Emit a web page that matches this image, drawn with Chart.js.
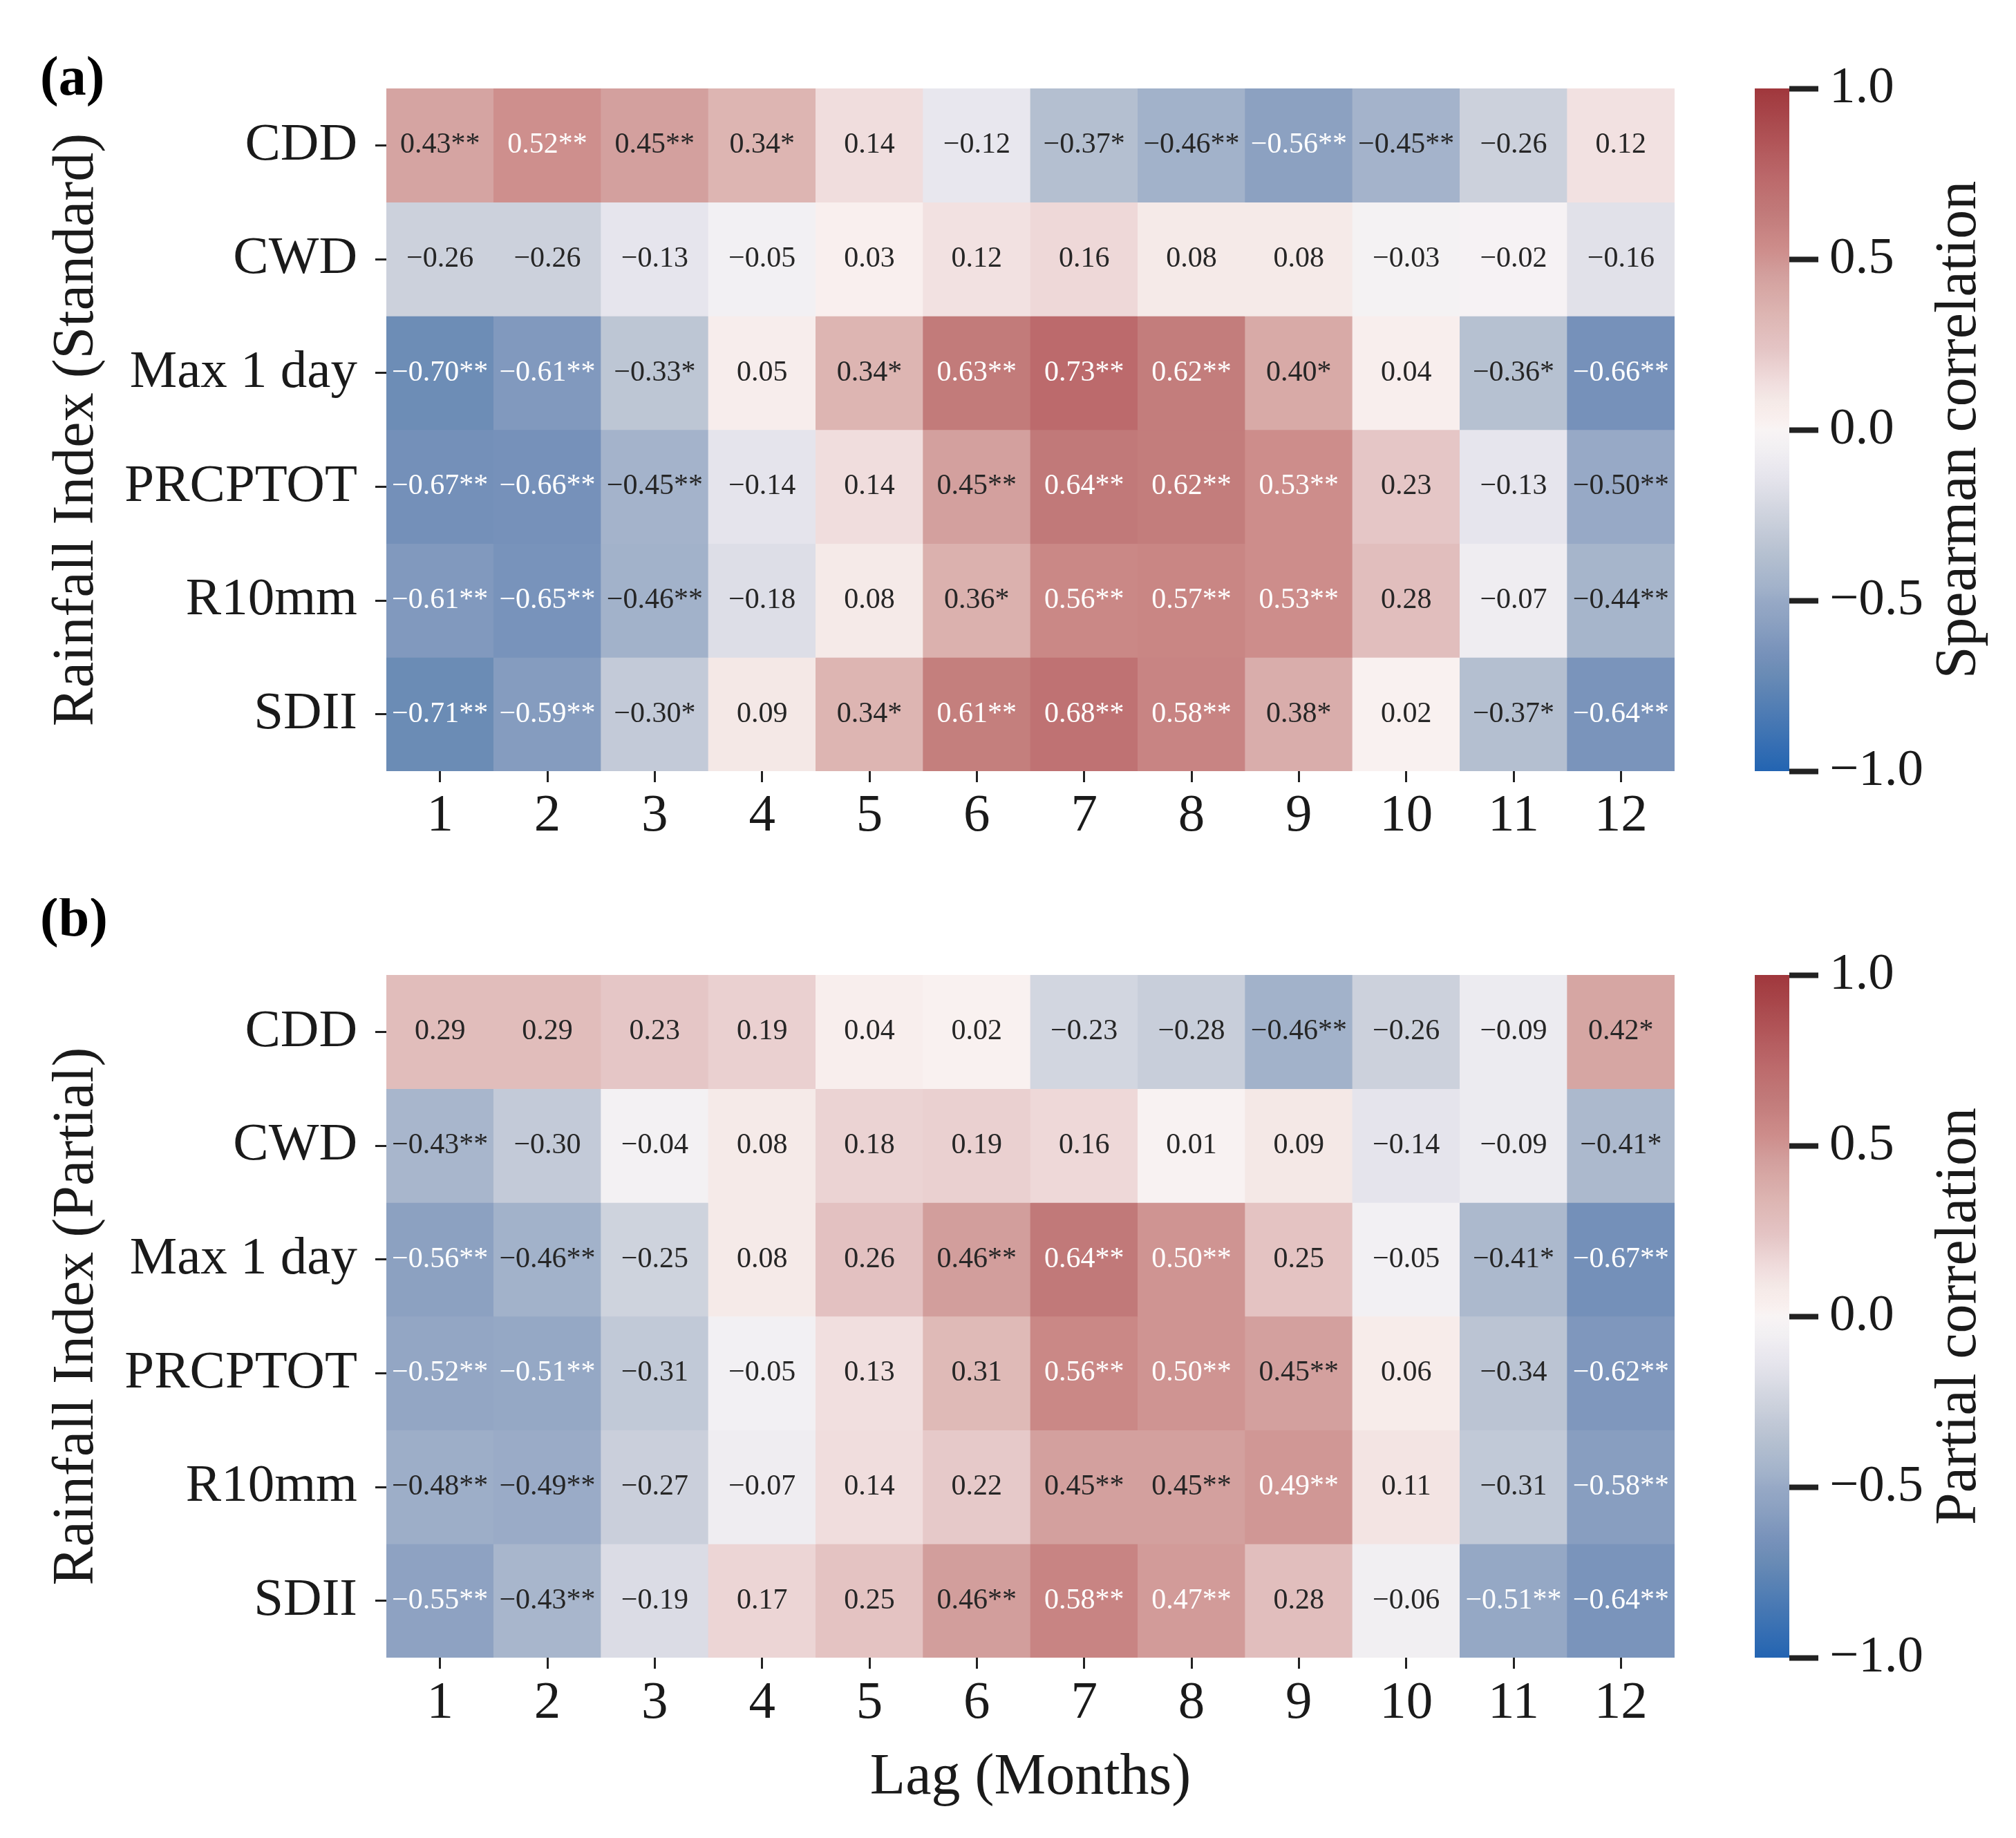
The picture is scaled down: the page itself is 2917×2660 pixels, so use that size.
<!DOCTYPE html>
<html>
<head>
<meta charset="utf-8">
<script src="https://cdn.jsdelivr.net/npm/chart.js@4.4.1/dist/chart.umd.min.js"></script>
<style>
  html, body { margin: 0; padding: 0; background: #fff; }
  #page { position: relative; width: 2917px; height: 2660px; overflow: hidden; }
  canvas { position: absolute; }
</style>
</head>
<body>
<div id="page">
  <canvas id="heatA" width="2450" height="1300" style="left:0;top:0"></canvas>
  <canvas id="barA" width="417" height="1300" style="left:2500px;top:0"></canvas>
  <canvas id="heatB" width="2450" height="1360" style="left:0;top:1300px"></canvas>
  <canvas id="barB" width="417" height="1360" style="left:2500px;top:1300px"></canvas>
</div>
<script>
// categories
const lags = ['1', '2', '3', '4', '5', '6', '7', '8', '9', '10', '11', '12'];
const indices = ['CDD', 'CWD', 'Max 1 day', 'PRCPTOT', 'R10mm', 'SDII'];
const cbTicks = [-1, -0.5, 0, 0.5, 1];

// (a) standard Spearman correlation
const stdCDD = [0.43, 0.52, 0.45, 0.34, 0.14, -0.12, -0.37, -0.46, -0.56, -0.45, -0.26, 0.12];
const stdCWD = [-0.26, -0.26, -0.13, -0.05, 0.03, 0.12, 0.16, 0.08, 0.08, -0.03, -0.02, -0.16];
const stdMax1 = [-0.70, -0.61, -0.33, 0.05, 0.34, 0.63, 0.73, 0.62, 0.40, 0.04, -0.36, -0.66];
const stdPRCPTOT = [-0.67, -0.66, -0.45, -0.14, 0.14, 0.45, 0.64, 0.62, 0.53, 0.23, -0.13, -0.50];
const stdR10mm = [-0.61, -0.65, -0.46, -0.18, 0.08, 0.36, 0.56, 0.57, 0.53, 0.28, -0.07, -0.44];
const stdSDII = [-0.71, -0.59, -0.30, 0.09, 0.34, 0.61, 0.68, 0.58, 0.38, 0.02, -0.37, -0.64];
// number of significance stars
const stdCDDSig = [2, 2, 2, 1, 0, 0, 1, 2, 2, 2, 0, 0];
const stdCWDSig = [0, 0, 0, 0, 0, 0, 0, 0, 0, 0, 0, 0];
const stdMax1Sig = [2, 2, 1, 0, 1, 2, 2, 2, 1, 0, 1, 2];
const stdPRCPTOTSig = [2, 2, 2, 0, 0, 2, 2, 2, 2, 0, 0, 2];
const stdR10mmSig = [2, 2, 2, 0, 0, 1, 2, 2, 2, 0, 0, 2];
const stdSDIISig = [2, 2, 1, 0, 1, 2, 2, 2, 1, 0, 1, 2];

// (b) partial correlation
const parCDD = [0.29, 0.29, 0.23, 0.19, 0.04, 0.02, -0.23, -0.28, -0.46, -0.26, -0.09, 0.42];
const parCWD = [-0.43, -0.30, -0.04, 0.08, 0.18, 0.19, 0.16, 0.01, 0.09, -0.14, -0.09, -0.41];
const parMax1 = [-0.56, -0.46, -0.25, 0.08, 0.26, 0.46, 0.64, 0.50, 0.25, -0.05, -0.41, -0.67];
const parPRCPTOT = [-0.52, -0.51, -0.31, -0.05, 0.13, 0.31, 0.56, 0.50, 0.45, 0.06, -0.34, -0.62];
const parR10mm = [-0.48, -0.49, -0.27, -0.07, 0.14, 0.22, 0.45, 0.45, 0.49, 0.11, -0.31, -0.58];
const parSDII = [-0.55, -0.43, -0.19, 0.17, 0.25, 0.46, 0.58, 0.47, 0.28, -0.06, -0.51, -0.64];
const parCDDSig = [0, 0, 0, 0, 0, 0, 0, 0, 2, 0, 0, 1];
const parCWDSig = [2, 0, 0, 0, 0, 0, 0, 0, 0, 0, 0, 1];
const parMax1Sig = [2, 2, 0, 0, 0, 2, 2, 2, 0, 0, 1, 2];
const parPRCPTOTSig = [2, 2, 0, 0, 0, 0, 2, 2, 2, 0, 0, 2];
const parR10mmSig = [2, 2, 0, 0, 0, 0, 2, 2, 2, 0, 0, 2];
const parSDIISig = [2, 2, 0, 0, 0, 2, 2, 2, 0, 0, 2, 2];

const FONT = '"Liberation Serif", "Times New Roman", serif';
const INK = '#1a1a1a';
Chart.defaults.font.family = FONT;
Chart.defaults.color = INK;

// blue - white - red map, picked off the figure
const cmap = [
  [-1.00, [35, 100, 178]], [-0.71, [107, 140, 181]], [-0.66, [118, 145, 186]],
  [-0.56, [140, 161, 193]], [-0.50, [151, 169, 198]], [-0.46, [162, 178, 202]],
  [-0.37, [180, 191, 208]], [-0.26, [204, 209, 220]], [-0.14, [229, 228, 236]],
  [-0.05, [242, 240, 243]], [0.00, [248, 244, 244]], [0.03, [249, 239, 238]],
  [0.08, [245, 234, 232]], [0.14, [240, 221, 221]], [0.23, [229, 198, 198]],
  [0.34, [221, 181, 178]], [0.45, [211, 160, 158]], [0.53, [205, 141, 139]],
  [0.63, [194, 123, 122]], [0.73, [188, 106, 108]], [1.00, [160, 55, 60]]
];

function colorFor(v) {
  for (let i = 1; i < cmap.length; i++) {
    if (v <= cmap[i][0]) {
      const [v0, c0] = cmap[i - 1], [v1, c1] = cmap[i];
      const t = (v - v0) / (v1 - v0);
      const c = c0.map((a, k) => Math.round(a + (c1[k] - a) * t));
      return `rgb(${c[0]},${c[1]},${c[2]})`;
    }
  }
  const c = cmap[cmap.length - 1][1];
  return `rgb(${c[0]},${c[1]},${c[2]})`;
}

function fmt(v, digits) {
  return (v < 0 ? '\u2212' : '') + Math.abs(v).toFixed(digits);
}

// writes value + stars in the middle of each cell
const cellText = {
  id: 'cellText',
  afterDatasetsDraw(chart) {
    const ctx = chart.ctx;
    ctx.save();
    ctx.font = '42px ' + FONT;
    ctx.textAlign = 'center';
    ctx.textBaseline = 'middle';
    chart.data.datasets.forEach((ds, i) => {
      chart.getDatasetMeta(i).data.forEach((bar, j) => {
        const v = ds.values[j];
        ctx.fillStyle = (v >= 0.47 || v <= -0.51) ? '#ffffff' : '#262626';
        ctx.fillText(fmt(v, 2) + '*'.repeat(ds.sig[j]), bar.x, (bar.y + bar.base) / 2);
      });
    });
    ctx.restore();
  }
};

const panelTag = {
  id: 'panelTag',
  afterDraw(chart, args, opts) {
    const ctx = chart.ctx;
    ctx.save();
    ctx.font = 'bold 80px ' + FONT;
    ctx.fillStyle = '#000';
    ctx.textAlign = 'left';
    ctx.textBaseline = 'middle';
    ctx.fillText(opts.text, opts.x, opts.y);
    ctx.restore();
  }
};

function heatmap(id, rows, sigs, cfg) {
  const datasets = rows.map((vals, r) => ({
    label: indices[r],
    data: vals.map(() => [r - 0.5, r + 0.5]),
    values: vals,
    sig: sigs[r],
    backgroundColor: vals.map(colorFor),
    borderWidth: 0,
    barPercentage: 1,
    categoryPercentage: 1
  }));
  const el = document.getElementById(id);
  return new Chart(el, {
    type: 'bar',
    data: { labels: lags, datasets: datasets },
    plugins: [cellText, panelTag],
    options: {
      responsive: false,
      animation: false,
      devicePixelRatio: 1,
      layout: { padding: { left: 0, right: 27, top: cfg.top, bottom: 0 } },
      plugins: {
        legend: { display: false },
        tooltip: { enabled: false },
        panelTag: { text: cfg.tag, x: 58, y: cfg.tagY }
      },
      scales: {
        x: {
          type: 'category',
          stacked: true,
          afterFit: s => { s.height = el.height - cfg.bottom; },
          grid: { offset: false, drawOnChartArea: false, tickLength: 16, tickWidth: 3, tickColor: '#222' },
          border: { display: false },
          ticks: { font: { size: 77 }, color: INK, padding: cfg.xPad, maxRotation: 0 },
          title: {
            display: !!cfg.xTitle,
            text: cfg.xTitle || '',
            font: { size: 84 },
            color: INK,
            padding: { top: 0, bottom: 36 }
          }
        },
        y: {
          type: 'linear',
          min: -0.5,
          max: 5.5,
          reverse: true,
          afterBuildTicks: s => { s.ticks = indices.map((_, i) => ({ value: i })); },
          afterFit: s => { s.width = 559; },
          grid: { drawOnChartArea: false, tickLength: 16, tickWidth: 3, tickColor: '#222' },
          border: { display: false },
          ticks: { font: { size: 77 }, color: INK, padding: 26, callback: v => indices[v] },
          title: {
            display: true,
            text: cfg.yTitle,
            font: { size: 84 },
            color: INK,
            padding: { top: 62, bottom: 0 }
          }
        }
      }
    }
  });
}

function gradient(chart) {
  const area = chart.chartArea;
  if (!area) return colorFor(0);
  const g = chart.ctx.createLinearGradient(0, area.bottom, 0, area.top);
  for (let k = 0; k <= 100; k++) {
    const v = -1 + k / 50;
    g.addColorStop(k / 100, colorFor(v));
  }
  return g;
}

const cbLabel = {
  id: 'cbLabel',
  afterDraw(chart, args, opts) {
    const ctx = chart.ctx;
    const area = chart.chartArea;
    ctx.save();
    ctx.translate(opts.x, (area.top + area.bottom) / 2);
    ctx.rotate(-Math.PI / 2);
    ctx.font = '84px ' + FONT;
    ctx.fillStyle = INK;
    ctx.textAlign = 'center';
    ctx.textBaseline = 'middle';
    ctx.fillText(opts.text, 0, 0);
    ctx.restore();
  }
};

function colorbar(id, label, top) {
  const el = document.getElementById(id);
  return new Chart(el, {
    type: 'bar',
    data: {
      labels: [''],
      datasets: [{
        data: [[-1, 1]],
        backgroundColor: ctx => gradient(ctx.chart),
        borderWidth: 0,
        barPercentage: 1,
        categoryPercentage: 1
      }]
    },
    plugins: [cbLabel],
    options: {
      responsive: false,
      animation: false,
      devicePixelRatio: 1,
      layout: { padding: { left: 39, right: 0, top: top, bottom: el.height - top - 988 } },
      plugins: {
        legend: { display: false },
        tooltip: { enabled: false },
        cbLabel: { text: label, x: 336 }
      },
      scales: {
        x: { display: false },
        y: {
          position: 'right',
          min: -1,
          max: 1,
          afterBuildTicks: s => { s.ticks = cbTicks.map(v => ({ value: v })); },
          afterFit: s => { s.width = 328; },
          grid: { drawOnChartArea: false, tickLength: 42, tickWidth: 8, tickColor: '#222' },
          border: { display: false },
          ticks: { font: { size: 75 }, color: INK, padding: 16, callback: v => fmt(v, 1) }
        }
      }
    }
  });
}

heatmap('heatA',
  [stdCDD, stdCWD, stdMax1, stdPRCPTOT, stdR10mm, stdSDII],
  [stdCDDSig, stdCWDSig, stdMax1Sig, stdPRCPTOTSig, stdR10mmSig, stdSDIISig],
  { top: 128, bottom: 1116, xPad: 4, tag: '(a)', tagY: 116, yTitle: 'Rainfall Index (Standard)' });

heatmap('heatB',
  [parCDD, parCWD, parMax1, parPRCPTOT, parR10mm, parSDII],
  [parCDDSig, parCWDSig, parMax1Sig, parPRCPTOTSig, parR10mmSig, parSDIISig],
  { top: 111, bottom: 1099, xPad: 5, tag: '(b)', tagY: 33, yTitle: 'Rainfall Index (Partial)', xTitle: 'Lag (Months)' });

colorbar('barA', 'Spearman correlation', 128);
colorbar('barB', 'Partial correlation', 111);
</script>
</body>
</html>
